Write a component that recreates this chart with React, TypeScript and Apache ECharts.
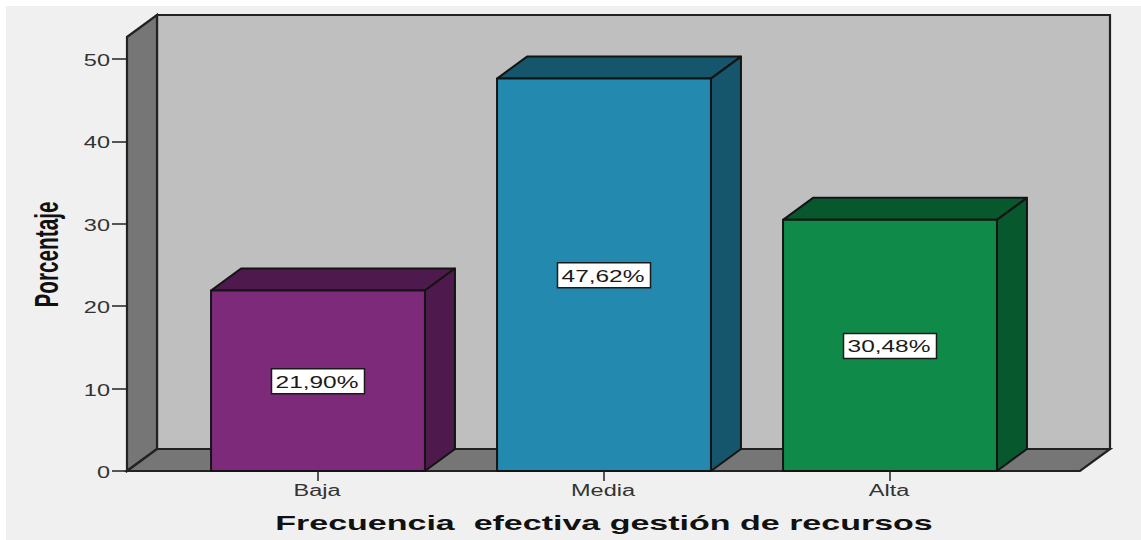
import React, { useEffect, useRef } from "react";
import * as echarts from "echarts";

const categories = ["Baja", "Media", "Alta"];
const percentages = [21.9, 47.62, 30.48];
const tickValues = [0, 10, 20, 30, 40, 50];
const frontColors = ["#7d2a7b", "#2389ae", "#108a48"];
const sideColors = ["#4e1a4d", "#15566d", "#08582d"];
const xTitle = "Frecuencia  efectiva gestión de recursos";
const yTitle = "Porcentaje";

const FONT = "'Liberation Sans', Arial, sans-serif";
const EDGE = "#141414";
const DEPTH_X = 30;
const DEPTH_Y = 22;
// The floor runs wider than the category bands on both sides.
const FLOOR_LEFT = 48;
const FLOOR_RIGHT = 47;
const TEXT_STRETCH = 1.47;

const renderWalls = (params: any) => {
  const { x, y, width, height } = params.coordSys;
  const l = x - FLOOR_LEFT;
  const r = x + width + FLOOR_RIGHT;
  const b = y + height;
  const wall = { stroke: "#222222", lineWidth: 2.2 };
  return {
    type: "group",
    children: [
      {
        type: "polygon",
        shape: { points: [[l + DEPTH_X, y - DEPTH_Y], [r + DEPTH_X, y - DEPTH_Y], [r + DEPTH_X, b - DEPTH_Y], [l + DEPTH_X, b - DEPTH_Y]] },
        style: { fill: "#bfbfbf", ...wall },
      },
      {
        type: "polygon",
        shape: { points: [[l, y], [l + DEPTH_X, y - DEPTH_Y], [l + DEPTH_X, b - DEPTH_Y], [l, b]] },
        style: { fill: "#767676", ...wall },
      },
      {
        type: "polygon",
        shape: { points: [[l, b], [l + DEPTH_X, b - DEPTH_Y], [r + DEPTH_X, b - DEPTH_Y], [r, b]] },
        style: { fill: "#767676", ...wall },
      },
    ],
  };
};

const renderBar = (params: any, api: any) => {
  const i = params.dataIndex;
  const value = api.value(1);
  const [cx, top] = api.coord([i, value]);
  const [, base] = api.coord([i, 0]);
  const half = (api.size([1, 0])[0] * 0.748) / 2;
  const l = cx - half;
  const r = cx + half;
  const edge = { stroke: EDGE, lineWidth: 2, lineJoin: "round" };
  const midY = (top + base) / 2;
  const text = value.toFixed(2).replace(".", ",") + "%";
  return {
    type: "group",
    children: [
      {
        type: "polygon",
        shape: { points: [[l, top], [l + DEPTH_X, top - DEPTH_Y], [r + DEPTH_X, top - DEPTH_Y], [r, top]] },
        style: { fill: sideColors[i], ...edge },
      },
      {
        type: "polygon",
        shape: { points: [[r, top], [r + DEPTH_X, top - DEPTH_Y], [r + DEPTH_X, base - DEPTH_Y], [r, base]] },
        style: { fill: sideColors[i], ...edge },
      },
      {
        type: "polygon",
        shape: { points: [[l, top], [r, top], [r, base], [l, base]] },
        style: { fill: frontColors[i], ...edge },
      },
      {
        type: "rect",
        shape: { x: cx - 46.5, y: midY - 12, width: 93, height: 25 },
        style: { fill: "#ffffff", stroke: "#1a1a1a", lineWidth: 1.5 },
      },
      {
        type: "text",
        x: cx - 1,
        y: midY + 1,
        scaleX: 1.53,
        style: { text, align: "center", verticalAlign: "middle", fontFamily: FONT, fontSize: 16, fill: "#1a1a1a" },
      },
    ],
  };
};

const renderYTick = (params: any, api: any) => {
  const v = api.value(1);
  const [, y] = api.coord([0, v]);
  return {
    type: "text",
    x: params.coordSys.x - FLOOR_LEFT - 17,
    y: y + 1.5,
    scaleX: TEXT_STRETCH,
    style: { text: String(v), align: "right", verticalAlign: "middle", fontFamily: FONT, fontSize: 16, fill: "#333333" },
  };
};

const renderXTick = (params: any, api: any) => {
  const [x, y] = api.coord([params.dataIndex, 0]);
  return {
    type: "text",
    x: x - 1,
    y: y + 19,
    scaleX: TEXT_STRETCH,
    style: { text: categories[params.dataIndex], align: "center", verticalAlign: "middle", fontFamily: FONT, fontSize: 16, fill: "#333333" },
  };
};

export default function App() {
  const ref = useRef<HTMLDivElement>(null);

  useEffect(() => {
    const chart = echarts.init(ref.current!, null, { renderer: "svg" });
    chart.setOption({
      animation: false,
      backgroundColor: "#ffffff",
      grid: { left: 175, right: 108, top: 37, bottom: 69 },
      xAxis: {
        type: "category",
        data: categories,
        axisLine: { show: false },
        axisTick: { show: true, alignWithLabel: true, length: 10, lineStyle: { color: "#222222", width: 1.5 } },
        axisLabel: { show: false },
        z: 5,
      },
      yAxis: {
        type: "value",
        min: 0,
        max: 52.67,
        interval: 10,
        offset: FLOOR_LEFT,
        splitLine: { show: false },
        axisLine: { show: true, lineStyle: { color: "#222222", width: 2 } },
        axisTick: { show: true, length: 15, customValues: tickValues, lineStyle: { color: "#222222", width: 1.5 } },
        axisLabel: { show: false },
        z: 5,
      },
      graphic: [
        {
          type: "rect",
          z: -10,
          silent: true,
          shape: { x: 6, y: 6, width: 1135, height: 534 },
          style: { fill: "#f0f0f0" },
        },
        {
          type: "text",
          x: 604,
          y: 523,
          scaleX: 1.62,
          style: { text: xTitle, align: "center", verticalAlign: "middle", fontFamily: FONT, fontWeight: "bold", fontSize: 21, fill: "#111111" },
        },
        {
          type: "text",
          x: 47,
          y: 254.5,
          rotation: Math.PI / 2,
          scaleX: 0.61,
          style: { text: yTitle, align: "center", verticalAlign: "middle", fontFamily: FONT, fontWeight: "bold", fontSize: 34, fill: "#111111" },
        },
      ],
      series: [
        { type: "custom", z: 1, silent: true, data: [[0, 0]], renderItem: renderWalls },
        {
          type: "custom",
          z: 2,
          silent: true,
          data: percentages.map((v, i) => [i, v]),
          encode: { x: 0, y: 1 },
          renderItem: renderBar,
        },
        { type: "custom", z: 3, silent: true, data: tickValues.map((v) => [0, v]), renderItem: renderYTick },
        { type: "custom", z: 3, silent: true, data: categories.map((_c, i) => [i, 0]), renderItem: renderXTick },
      ],
    });
    return () => chart.dispose();
  }, []);

  return <div ref={ref} style={{ position: "fixed", left: 0, top: 0, width: 1141, height: 540 }} />;
}
